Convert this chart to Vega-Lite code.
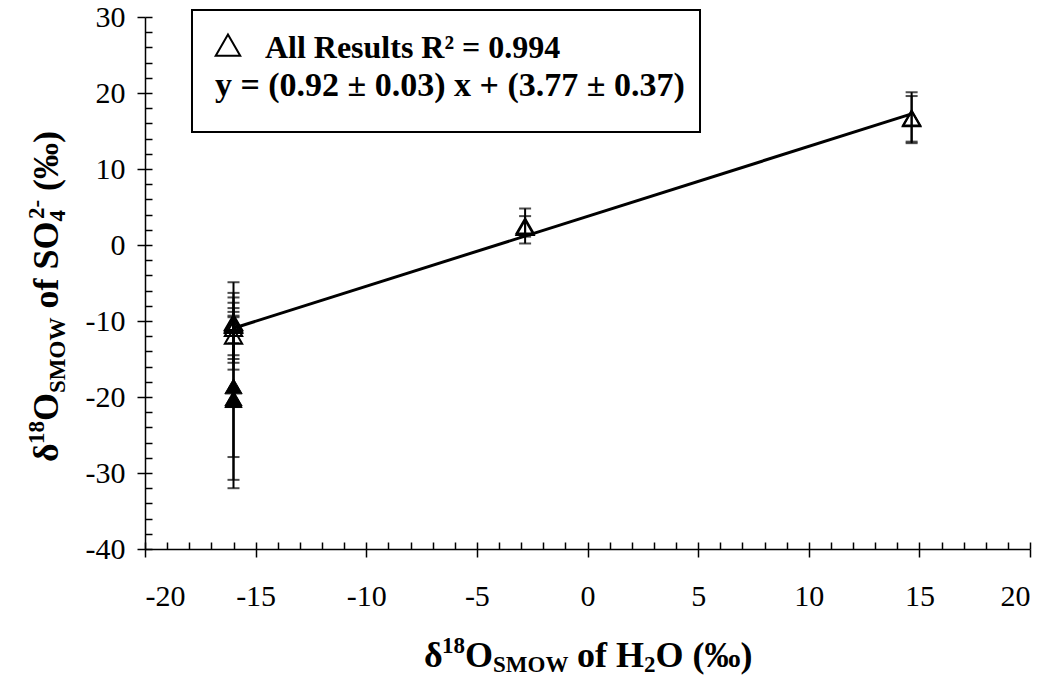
{
  "$schema": "https://vega.github.io/schema/vega-lite/v6.json",
  "width": 885,
  "height": 532,
  "autosize": "none",
  "padding": {"left": 145, "top": 17, "right": 23, "bottom": 129},
  "background": "white",
  "config": {"view": {"stroke": null}, "font": "Liberation Serif"},
  "datasets": {
    "pts": [
      {"x": -16.0, "y": -10.2, "lo": -15.5, "hi": -4.9, "filled": "no"},
      {"x": -16.0, "y": -10.4, "lo": -14.5, "hi": -6.3, "filled": "no"},
      {"x": -16.0, "y": -11.0, "lo": -15.0, "hi": -6.9, "filled": "no"},
      {"x": -16.0, "y": -12.0, "lo": -16.4, "hi": -7.6, "filled": "no"},
      {"x": -16.0, "y": -10.6, "lo": -12.9, "hi": -8.3, "filled": "no"},
      {"x": -16.0, "y": -18.6, "lo": -27.9, "hi": -9.3, "filled": "yes"},
      {"x": -16.0, "y": -20.2, "lo": -30.9, "hi": -9.5, "filled": "yes"},
      {"x": -16.0, "y": -20.4, "lo": -32.0, "hi": -8.8, "filled": "yes"},
      {"x": -2.82, "y": 2.5, "lo": 0.2, "hi": 4.8, "filled": "no"},
      {"x": -2.82, "y": 2.3, "lo": 1.1, "hi": 3.8, "filled": "no"},
      {"x": 14.65, "y": 16.7, "lo": 13.4, "hi": 20.1, "filled": "no"},
      {"x": 14.65, "y": 16.6, "lo": 13.6, "hi": 19.6, "filled": "no"}
    ],
    "fit": [
      {"x": -16.0, "y": -10.95},
      {"x": 14.65, "y": 17.25}
    ],
    "one": [{}]
  },
  "resolve": {"axis": {"x": "independent", "y": "independent"}},
  "layer": [
    {
      "data": {"name": "one"},
      "mark": {"type": "rect", "fill": "white", "stroke": "black", "strokeWidth": 2},
      "encoding": {
        "x": {"datum": -17.876, "type": "quantitative", "scale": {"domain": [-20, 20], "nice": false, "zero": false},
          "axis": {"orient": "bottom", "values": [-20,-19,-18,-17,-16,-15,-14,-13,-12,-11,-10,-9,-8,-7,-6,-5,-4,-3,-2,-1,0,1,2,3,4,5,6,7,8,9,10,11,12,13,14,15,16,17,18,19,20],
            "tickSize": -7, "tickColor": "black", "tickWidth": 1.5, "labels": false, "domain": false, "grid": false, "title": null}},
        "x2": {"datum": 5.085},
        "y": {"datum": 30.92, "type": "quantitative", "scale": {"domain": [-40, 30], "nice": false, "zero": false},
          "axis": {"orient": "left", "values": [-40,-38,-36,-34,-32,-30,-28,-26,-24,-22,-20,-18,-16,-14,-12,-10,-8,-6,-4,-2,0,2,4,6,8,10,12,14,16,18,20,22,24,26,28,30],
            "tickSize": -7, "tickColor": "black", "tickWidth": 1.5, "labels": false, "domain": false, "grid": false, "title": null}},
        "y2": {"datum": 14.87}
      }
    },
    {
      "data": {"name": "pts"},
      "mark": {"type": "rule", "color": "black", "strokeWidth": 2},
      "encoding": {
        "x": {"field": "x", "type": "quantitative", "scale": {"domain": [-20, 20], "nice": false, "zero": false},
          "axis": {"orient": "bottom", "values": [-20,-15,-10,-5,0,5,10,15,20], "tickSize": 8, "tickColor": "black", "tickWidth": 1.5,
            "domainColor": "black", "domainWidth": 1.5, "labelFont": "Liberation Serif", "labelFontSize": 30, "labelColor": "black",
            "labelExpr": "replace(datum.label, '\u2212', '-')",
            "labelPadding": 24, "grid": false, "title": null}},
        "y": {"field": "lo", "type": "quantitative", "scale": {"domain": [-40, 30], "nice": false, "zero": false},
          "axis": {"orient": "left", "values": [-40,-30,-20,-10,0,10,20,30], "tickSize": 8, "tickColor": "black", "tickWidth": 1.5,
            "domainColor": "black", "domainWidth": 1.5, "labelFont": "Liberation Serif", "labelFontSize": 30, "labelColor": "black",
            "labelExpr": "replace(datum.label, '\u2212', '-')",
            "labelPadding": 12, "grid": false, "title": null}},
        "y2": {"field": "hi"}
      }
    },
    {
      "data": {"name": "pts"},
      "mark": {"type": "tick", "orient": "horizontal", "color": "black", "size": 12, "thickness": 2},
      "encoding": {
        "x": {"field": "x", "type": "quantitative", "scale": {"domain": [-20, 20]}, "axis": null},
        "y": {"field": "lo", "type": "quantitative", "scale": {"domain": [-40, 30]}, "axis": null}
      }
    },
    {
      "data": {"name": "pts"},
      "mark": {"type": "tick", "orient": "horizontal", "color": "black", "size": 12, "thickness": 2},
      "encoding": {
        "x": {"field": "x", "type": "quantitative", "scale": {"domain": [-20, 20]}, "axis": null},
        "y": {"field": "hi", "type": "quantitative", "scale": {"domain": [-40, 30]}, "axis": null}
      }
    },
    {
      "data": {"name": "fit"},
      "mark": {"type": "line", "color": "black", "strokeWidth": 3},
      "encoding": {
        "x": {"field": "x", "type": "quantitative", "scale": {"domain": [-20, 20]}, "axis": null},
        "y": {"field": "y", "type": "quantitative", "scale": {"domain": [-40, 30]}, "axis": null}
      }
    },
    {
      "data": {"name": "pts"},
      "transform": [{"filter": "datum.filled == 'no'"}],
      "mark": {"type": "point", "shape": "triangle-up", "filled": false, "stroke": "black", "strokeWidth": 2, "size": 300, "opacity": 1},
      "encoding": {
        "x": {"field": "x", "type": "quantitative", "scale": {"domain": [-20, 20]}, "axis": null},
        "y": {"field": "y", "type": "quantitative", "scale": {"domain": [-40, 30]}, "axis": null}
      }
    },
    {
      "data": {"name": "pts"},
      "transform": [{"filter": "datum.filled == 'yes'"}],
      "mark": {"type": "point", "shape": "triangle-up", "filled": true, "fill": "black", "stroke": "black", "strokeWidth": 1, "size": 300, "opacity": 1},
      "encoding": {
        "x": {"field": "x", "type": "quantitative", "scale": {"domain": [-20, 20]}, "axis": null},
        "y": {"field": "y", "type": "quantitative", "scale": {"domain": [-40, 30]}, "axis": null}
      }
    },
    {
      "data": {"name": "one"},
      "mark": {"type": "point", "shape": "triangle-up", "filled": false, "stroke": "black", "strokeWidth": 2, "size": 600, "opacity": 1},
      "encoding": {
        "x": {"datum": -16.25, "type": "quantitative", "scale": {"domain": [-20, 20]}, "axis": null},
        "y": {"datum": 26.3, "type": "quantitative", "scale": {"domain": [-40, 30]}, "axis": null}
      }
    },
    {
      "data": {"name": "one"},
      "mark": {"type": "text", "text": "All Results R² = 0.994", "font": "Liberation Serif", "fontWeight": "bold", "fontSize": 32, "align": "left", "baseline": "alphabetic", "color": "black"},
      "encoding": {
        "x": {"datum": -14.58, "type": "quantitative", "scale": {"domain": [-20, 20]}, "axis": null},
        "y": {"datum": 24.6, "type": "quantitative", "scale": {"domain": [-40, 30]}, "axis": null}
      }
    },
    {
      "data": {"name": "one"},
      "mark": {"type": "text", "text": "y = (0.92 ± 0.03) x + (3.77 ± 0.37)", "font": "Liberation Serif", "fontWeight": "bold", "fontSize": 34, "align": "left", "baseline": "alphabetic", "color": "black"},
      "encoding": {
        "x": {"datum": -16.84, "type": "quantitative", "scale": {"domain": [-20, 20]}, "axis": null},
        "y": {"datum": 19.6, "type": "quantitative", "scale": {"domain": [-40, 30]}, "axis": null}
      }
    },
    {
      "data": {"values": [
        {"t": "δ", "px": -7.39, "big": 1, "shift": 0},
        {"t": "18", "px": -6.576, "big": 0, "shift": -1},
        {"t": "O", "px": -5.537, "big": 1, "shift": 0},
        {"t": "SMOW", "px": -4.271, "big": 0, "shift": 1},
        {"t": "of H", "px": -0.475, "big": 1, "shift": 0},
        {"t": "2", "px": 2.554, "big": 0, "shift": 1},
        {"t": "O (‰)", "px": 3.073, "big": 1, "shift": 0}
      ]},
      "layer": [
        {
          "transform": [{"filter": "datum.big == 1"}],
          "mark": {"type": "text", "font": "Liberation Serif", "fontWeight": "bold", "fontSize": 36, "align": "left", "baseline": "alphabetic", "color": "black"},
          "encoding": {
            "text": {"field": "t"},
            "x": {"field": "px", "type": "quantitative", "scale": {"domain": [-20, 20]}, "axis": null},
            "y": {"datum": -55.5, "type": "quantitative", "scale": {"domain": [-40, 30]}, "axis": null}
          }
        },
        {
          "transform": [{"filter": "datum.big == 0 && datum.shift == -1"}],
          "mark": {"type": "text", "font": "Liberation Serif", "fontWeight": "bold", "fontSize": 23, "align": "left", "baseline": "alphabetic", "color": "black", "dy": -14},
          "encoding": {
            "text": {"field": "t"},
            "x": {"field": "px", "type": "quantitative", "scale": {"domain": [-20, 20]}, "axis": null},
            "y": {"datum": -55.5, "type": "quantitative", "scale": {"domain": [-40, 30]}, "axis": null}
          }
        },
        {
          "transform": [{"filter": "datum.big == 0 && datum.shift == 1"}],
          "mark": {"type": "text", "font": "Liberation Serif", "fontWeight": "bold", "fontSize": 23, "align": "left", "baseline": "alphabetic", "color": "black", "dy": 5},
          "encoding": {
            "text": {"field": "t"},
            "x": {"field": "px", "type": "quantitative", "scale": {"domain": [-20, 20]}, "axis": null},
            "y": {"datum": -55.5, "type": "quantitative", "scale": {"domain": [-40, 30]}, "axis": null}
          }
        }
      ]
    },
    {
      "data": {"values": [
        {"t": "δ", "py": -28.553, "big": 1, "shift": 0},
        {"t": "18", "py": -26.184, "big": 0, "shift": -1},
        {"t": "O", "py": -23.158, "big": 1, "shift": 0},
        {"t": "SMOW", "py": -19.474, "big": 0, "shift": 1},
        {"t": "of SO", "py": -8.368, "big": 1, "shift": 0},
        {"t": "4", "py": 3.079, "big": 0, "shift": 1},
        {"t": "2-", "py": 3.421, "big": 0, "shift": -1},
        {"t": "(‰)", "py": 7.105, "big": 1, "shift": 0}
      ]},
      "layer": [
        {
          "transform": [{"filter": "datum.big == 1"}],
          "mark": {"type": "text", "font": "Liberation Serif", "fontWeight": "bold", "fontSize": 36, "align": "left", "baseline": "alphabetic", "color": "black", "angle": 270},
          "encoding": {
            "text": {"field": "t"},
            "x": {"datum": -23.93, "type": "quantitative", "scale": {"domain": [-20, 20]}, "axis": null},
            "y": {"field": "py", "type": "quantitative", "scale": {"domain": [-40, 30]}, "axis": null}
          }
        },
        {
          "transform": [{"filter": "datum.big == 0 && datum.shift == -1"}],
          "mark": {"type": "text", "font": "Liberation Serif", "fontWeight": "bold", "fontSize": 23, "align": "left", "baseline": "alphabetic", "color": "black", "angle": 270, "dy": -14},
          "encoding": {
            "text": {"field": "t"},
            "x": {"datum": -23.93, "type": "quantitative", "scale": {"domain": [-20, 20]}, "axis": null},
            "y": {"field": "py", "type": "quantitative", "scale": {"domain": [-40, 30]}, "axis": null}
          }
        },
        {
          "transform": [{"filter": "datum.big == 0 && datum.shift == 1"}],
          "mark": {"type": "text", "font": "Liberation Serif", "fontWeight": "bold", "fontSize": 23, "align": "left", "baseline": "alphabetic", "color": "black", "angle": 270, "dy": 7},
          "encoding": {
            "text": {"field": "t"},
            "x": {"datum": -23.93, "type": "quantitative", "scale": {"domain": [-20, 20]}, "axis": null},
            "y": {"field": "py", "type": "quantitative", "scale": {"domain": [-40, 30]}, "axis": null}
          }
        }
      ]
    }
  ]
}
